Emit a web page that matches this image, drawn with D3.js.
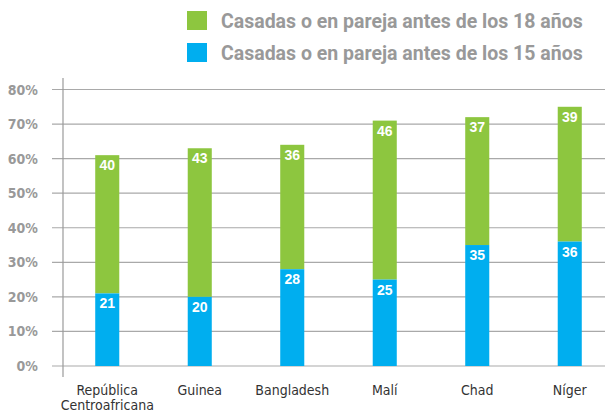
<!DOCTYPE html>
<html>
<head>
<meta charset="utf-8">
<script src="https://cdn.jsdelivr.net/npm/d3@7"></script>
<style>
  body { margin: 0; background: #fff; }
  text { font-family: "Liberation Sans Narrow", "DejaVu Sans Condensed", "Roboto", sans-serif; }
</style>
</head>
<body>
<div id="chart"></div>
<script>
// data
var countries = ["República\nCentroafricana", "Guinea", "Bangladesh", "Malí", "Chad", "Níger"];
var under15 = [21, 20, 28, 25, 35, 36];
var under18extra = [40, 43, 36, 46, 37, 39];
var yTicks = [0, 10, 20, 30, 40, 50, 60, 70, 80];
var seriesNames = ["Casadas o en pareja antes de los 18 años", "Casadas o en pareja antes de los 15 años"];

var green = "#8dc63f", blue = "#00aeef";

var width = 611, height = 413;

var svg = d3.select("#chart")
  .append("svg")
    .attr("width", width)
    .attr("height", height)

var x = d3.scaleBand()
  .domain(countries)
  .range([61, 616])
  .paddingInner(0.74)
  .paddingOuter(0.37)

var y = d3.scaleLinear()
  .domain([0, 80])
  .range([366, 89.5])

// gridlines
svg.append("g")
  .selectAll("line")
  .data(yTicks)
  .enter()
  .append("line")
    .attr("x1", 52)
    .attr("x2", 605)
    .attr("y1", function(d){ return y(d) })
    .attr("y2", function(d){ return y(d) })
    .attr("stroke", "#a9a9a9")
    .attr("stroke-width", 1.2)

// y axis line
svg.append("line")
  .attr("x1", 63).attr("x2", 63)
  .attr("y1", 78).attr("y2", 377)
  .attr("stroke", "#9a9a9a")
  .attr("stroke-width", 1.2)

// tick labels
svg.append("g")
  .selectAll("text")
  .data(yTicks)
  .enter()
  .append("text")
    .attr("x", 38)
    .attr("y", function(d){ return y(d) + 5 })
    .attr("text-anchor", "end")
    .attr("fill", "#999")
    .style("font-size", "14px")
    .style("font-weight", "bold")
    .text(function(d){ return d + "%" })

// stacked bars
var rows = countries.map(function(c, i){ return { c: c, a: under15[i], b: under18extra[i] } })

var bars = svg.append("g").selectAll("g").data(rows).enter().append("g")

bars.append("rect")
  .attr("x", function(d){ return x(d.c) })
  .attr("width", x.bandwidth())
  .attr("y", function(d){ return y(d.a + d.b) })
  .attr("height", function(d){ return y(d.a) - y(d.a + d.b) })
  .attr("fill", green)

bars.append("rect")
  .attr("x", function(d){ return x(d.c) })
  .attr("width", x.bandwidth())
  .attr("y", function(d){ return y(d.a) })
  .attr("height", function(d){ return y(0) - y(d.a) })
  .attr("fill", blue)

bars.append("text")
  .attr("x", function(d){ return x(d.c) + x.bandwidth() / 2 })
  .attr("y", function(d){ return y(d.a + d.b) + 15 })
  .attr("text-anchor", "middle")
  .attr("fill", "#fff")
  .style("font-family", "'Liberation Sans', Arial, sans-serif")
  .style("font-size", "14px")
  .style("font-weight", "bold")
  .text(function(d){ return d.b })

bars.append("text")
  .attr("x", function(d){ return x(d.c) + x.bandwidth() / 2 })
  .attr("y", function(d){ return y(d.a) + 15 })
  .attr("text-anchor", "middle")
  .attr("fill", "#fff")
  .style("font-family", "'Liberation Sans', Arial, sans-serif")
  .style("font-size", "14px")
  .style("font-weight", "bold")
  .text(function(d){ return d.a })

// category labels
var cat = svg.append("g").selectAll("text").data(countries).enter()
  .append("text")
    .attr("x", function(d){ return x(d) + x.bandwidth() / 2 })
    .attr("y", 395)
    .attr("text-anchor", "middle")
    .attr("fill", "#333")
    .style("font-size", "14px")

cat.selectAll("tspan")
  .data(function(d){ return d.split("\n") })
  .enter()
  .append("tspan")
    .attr("x", function(){ return this.parentNode.getAttribute("x") })
    .attr("dy", function(d, i){ return i ? 15 : 0 })
    .text(function(d){ return d })

// legend
var legend = svg.append("g").selectAll("g").data(seriesNames).enter().append("g")
  .attr("transform", function(d, i){ return "translate(187," + (11 + i * 32) + ")" })

legend.append("rect")
  .attr("width", 20).attr("height", 19)
  .attr("fill", function(d, i){ return i ? blue : green })

legend.append("text")
  .attr("x", 34)
  .attr("y", 17)
  .attr("fill", "#999")
  .style("font-family", "'Roboto', 'Liberation Sans', sans-serif")
  .style("font-size", "19.5px")
  .style("font-weight", "bold")
  .text(function(d){ return d })
</script>
</body>
</html>
